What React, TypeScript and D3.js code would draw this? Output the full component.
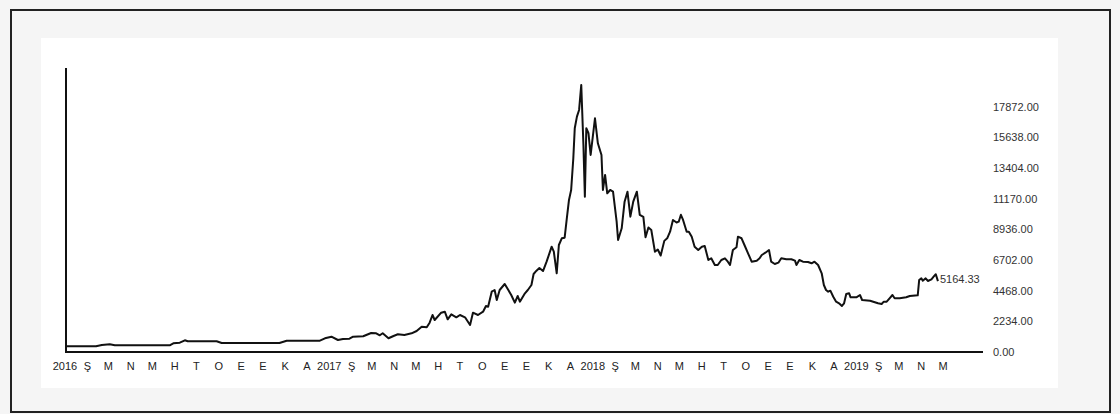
import React from "react";
import * as d3 from "d3";

const dates: string[] = [
  "2016-01-01","2016-02-13","2016-02-21","2016-03-03","2016-03-10","2016-05-25","2016-05-30","2016-06-08","2016-06-15","2016-06-19",
  "2016-07-29","2016-08-05","2016-10-24","2016-11-03","2016-12-19","2016-12-26","2017-01-04","2017-01-13","2017-01-20","2017-01-29",
  "2017-02-03","2017-02-17","2017-02-28","2017-03-07","2017-03-12","2017-03-16","2017-03-24","2017-03-31","2017-04-06","2017-04-15",
  "2017-04-25","2017-05-02","2017-05-09","2017-05-16","2017-05-20","2017-05-24","2017-05-27","2017-06-05","2017-06-10","2017-06-14",
  "2017-06-19","2017-06-26","2017-07-01","2017-07-08","2017-07-15","2017-07-19","2017-07-26","2017-08-02","2017-08-06","2017-08-09",
  "2017-08-14","2017-08-18","2017-08-21","2017-08-25","2017-09-01","2017-09-06","2017-09-10","2017-09-15","2017-09-19","2017-09-22",
  "2017-09-29","2017-10-03","2017-10-08","2017-10-11","2017-10-15","2017-10-19","2017-10-24","2017-10-29","2017-11-05","2017-11-08",
  "2017-11-12","2017-11-15","2017-11-19","2017-11-23","2017-11-26","2017-11-29","2017-12-02","2017-12-05","2017-12-07","2017-12-10",
  "2017-12-13","2017-12-16","2017-12-19","2017-12-21","2017-12-23","2017-12-26","2017-12-29","2018-01-04","2018-01-08","2018-01-13",
  "2018-01-15","2018-01-18","2018-01-21","2018-01-25","2018-01-29","2018-02-03","2018-02-05","2018-02-10","2018-02-14","2018-02-18",
  "2018-02-22","2018-02-26","2018-03-03","2018-03-07","2018-03-12","2018-03-15","2018-03-19","2018-03-23","2018-03-28","2018-04-01",
  "2018-04-05","2018-04-10","2018-04-14","2018-04-18","2018-04-22","2018-04-27","2018-04-30","2018-05-03","2018-05-06","2018-05-11",
  "2018-05-14","2018-05-18","2018-05-22","2018-05-27","2018-06-01","2018-06-05","2018-06-10","2018-06-14","2018-06-19","2018-06-23",
  "2018-06-28","2018-07-03","2018-07-07","2018-07-10","2018-07-14","2018-07-19","2018-07-21","2018-07-26","2018-07-30","2018-08-04",
  "2018-08-09","2018-08-16","2018-08-20","2018-08-23","2018-08-28","2018-09-02","2018-09-05","2018-09-10","2018-09-15","2018-09-19",
  "2018-09-26","2018-10-03","2018-10-08","2018-10-10","2018-10-14","2018-10-19","2018-10-26","2018-10-31","2018-11-04","2018-11-09",
  "2018-11-14","2018-11-17","2018-11-20","2018-11-23","2018-11-26","2018-11-30","2018-12-04","2018-12-08","2018-12-12","2018-12-15",
  "2018-12-18","2018-12-22","2018-12-24","2019-01-01","2019-01-06","2019-01-09","2019-01-20","2019-01-31","2019-02-05","2019-02-08",
  "2019-02-12","2019-02-16","2019-02-20","2019-02-23","2019-03-02","2019-03-11","2019-03-16","2019-03-27","2019-03-29","2019-04-01",
  "2019-04-03","2019-04-07","2019-04-10","2019-04-15","2019-04-18","2019-04-21","2019-04-24"
];

const prices: number[] = [
  415,415,510,561,488,488,634,678,853,780,
  780,656,656,824,824,999,1115,875,948,970,
  1115,1145,1385,1363,1217,1363,1000,1166,1290,1239,
  1363,1531,1844,1801,2136,2697,2333,2865,2938,2384,
  2748,2530,2697,2530,1968,2865,2697,2938,3353,3302,
  4396,4520,3791,4520,4957,4520,4155,3594,4082,3667,
  4279,4520,4884,5686,5927,6120,5900,6583,7676,7312,
  5737,7800,8289,8332,9747,11081,11810,14121,16308,17153,
  17642,19464,15090,11321,16308,15943,14361,17037,15214,14361,
  11810,12903,11569,11810,11686,9499,8165,9018,10957,11686,
  9863,10957,11686,10000,9850,8370,9080,8894,7312,7470,
  7030,8100,8289,8770,9623,9440,9499,10000,9623,8770,
  8770,8405,7676,7436,7676,7727,6707,6831,6342,6342,
  6707,6831,6583,6342,7436,7633,8405,8289,7800,7195,
  6583,6656,6831,7071,7239,7436,6583,6415,6510,6831,
  6758,6758,6656,6342,6707,6583,6561,6466,6583,6342,
  5737,4884,4520,4396,4469,4031,3667,3550,3353,3550,
  4228,4279,3988,3988,4155,3791,3740,3550,3499,3667,
  3667,3915,4155,3915,3915,3988,4082,4133,5249,5373,
  5198,5373,5176,5300,5489,5664,5164.33
];

const monthLabels: string[] = [
  "2016","Ş","M","N","M","H","T","O","E","E","K","A",
  "2017","Ş","M","N","M","H","T","O","E","E","K","A",
  "2018","Ş","M","N","M","H","T","O","E","E","K","A",
  "2019","Ş","M","N","M"
];

const yTicks: number[] = [0, 2234, 4468, 6702, 8936, 11170, 13404, 15638, 17872];
const lastLabel = "5164.33";

export default function App() {
  const W = 1120, H = 414;
  const parse = d3.utcParse("%Y-%m-%d");
  const data = dates.map((d, i) => ({ date: parse(d) as Date, value: prices[i] }));

  const x = d3.scaleUtc()
    .domain([Date.UTC(2016, 0, 1), Date.UTC(2019, 4, 1)])
    .range([65, 943]);
  const y = d3.scaleLinear().domain([0, 17872]).range([352, 106.8]);

  const line = d3.line<{ date: Date; value: number }>()
    .x(d => x(d.date))
    .y(d => y(d.value))
    .curve(d3.curveLinear);

  const months = d3.utcMonth.range(new Date(Date.UTC(2016, 0, 1)), new Date(Date.UTC(2019, 5, 1)));
  const last = data[data.length - 1];
  const font = "'Liberation Sans', Arial, sans-serif";

  return (
    <svg width={W} height={H} style={{ position: "absolute", left: 0, top: 0 }}>
      <rect x={0} y={0} width={W} height={H} fill="#f5f5f5" />
      <rect x={11} y={10} width={1099} height={402} fill="#f5f5f5" stroke="#222" strokeWidth={2} />
      <rect x={41} y={38} width={1017} height={350} fill="#ffffff" />
      {/* axes */}
      <line x1={66} y1={68} x2={66} y2={353} stroke="#111" strokeWidth={2} />
      <line x1={65} y1={352} x2={983} y2={352} stroke="#111" strokeWidth={2} />
      {/* y tick labels */}
      {yTicks.map(t => (
        <text key={t} x={993} y={y(t)} dy="0.35em" fontFamily={font} fontSize={11} fill="#333">
          {t.toFixed(2)}
        </text>
      ))}
      {/* x labels */}
      {monthLabels.map((lab, i) => (
        <text key={i} x={x(months[i])} y={366} dy="0.35em" textAnchor="middle"
          fontFamily={font} fontSize={11} fill="#222">
          {lab}
        </text>
      ))}
      <path d={line(data) || ""} fill="none" stroke="#111" strokeWidth={2} strokeLinejoin="round" />
      <text x={x(last.date) + 2} y={y(last.value) - 2} dy="0.35em" fontFamily={font} fontSize={11} fill="#333">
        {lastLabel}
      </text>
    </svg>
  );
}
